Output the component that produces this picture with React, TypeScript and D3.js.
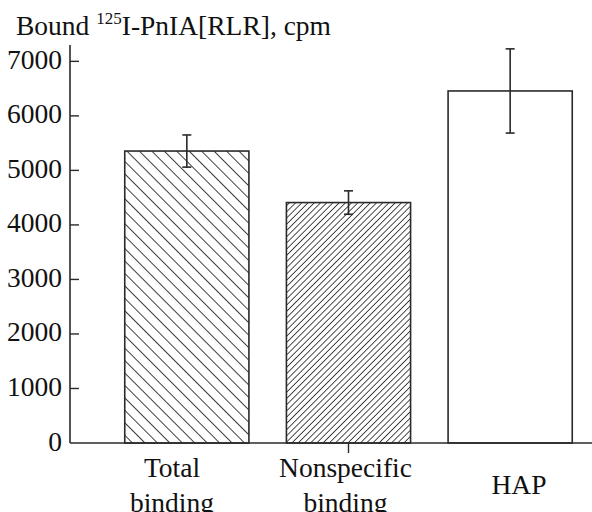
import React from "react";
import * as d3 from "d3";

const categories = ["Total binding", "Nonspecific binding", "HAP"];
const labelLines = [["Total", "binding"], ["Nonspecific", "binding"], ["HAP"]];
const values = [5355, 4410, 6457];
const errors = [295, 215, 772];
const yTicks = [0, 1000, 2000, 3000, 4000, 5000, 6000, 7000];

const W = 592;
const H = 512;
const FONT = "'Liberation Serif', 'Times New Roman', serif";
const INK = "#2a2a2a";
const FS = 27.5;

export default function App() {
  const x = d3
    .scaleBand<string>()
    .domain(categories)
    .range([106, 591])
    .paddingInner(0.232)
    .paddingOuter(0.116);
  const labelX = d3.scalePoint<string>().domain(categories).range([172, 519]);
  const y = d3.scaleLinear().domain([0, 7300]).range([443, 45]);
  const bw = x.bandwidth();
  const fills = ["url(#hatchBack)", "url(#hatchFwd)", "#fff"];
  const capW = 9;

  return (
    <svg
      width={W}
      height={H}
      style={{ position: "absolute", left: 0, top: 0, display: "block", background: "#fff" }}
      fontFamily={FONT}
    >
      <defs>
        <pattern id="hatchBack" patternUnits="userSpaceOnUse" width={8.8} height={20} patternTransform="rotate(-45)">
          <rect width={8.8} height={20} fill="#fff" />
          <line x1={0} y1={0} x2={0} y2={20} stroke="#000" strokeWidth={1.5} />
        </pattern>
        <pattern id="hatchFwd" patternUnits="userSpaceOnUse" width={4.4} height={20} patternTransform="rotate(45)">
          <rect width={4.4} height={20} fill="#fff" />
          <line x1={0} y1={0} x2={0} y2={20} stroke="#000" strokeWidth={1.4} />
        </pattern>
      </defs>
      <rect width={W} height={H} fill="#fff" />

      {/* title */}
      <text x={16} y={35} fontSize={FS} fill="#111">
        <tspan>Bound </tspan>
        <tspan fontSize={17} dy={-11}>125</tspan>
        <tspan dy={11}>I-PnIA[RLR], cpm</tspan>
      </text>

      {/* bars */}
      {categories.map((c, i) => (
        <rect
          key={c}
          x={x(c)!}
          y={y(values[i])}
          width={bw}
          height={y(0) - y(values[i])}
          fill={fills[i]}
          stroke={INK}
          strokeWidth={1.6}
        />
      ))}

      {/* error bars */}
      {categories.map((c, i) => {
        const cx = x(c)! + bw / 2;
        const top = y(values[i] + errors[i]);
        const bot = y(values[i] - errors[i]);
        return (
          <g key={c} stroke={INK} strokeWidth={1.6}>
            <line x1={cx} x2={cx} y1={top} y2={bot} />
            <line x1={cx - capW / 2} x2={cx + capW / 2} y1={top} y2={top} />
            <line x1={cx - capW / 2} x2={cx + capW / 2} y1={bot} y2={bot} />
          </g>
        );
      })}

      {/* axes */}
      <line x1={70} x2={70} y1={y(7300)} y2={y(0)} stroke={INK} strokeWidth={1.6} />
      <line x1={70} x2={W} y1={y(0)} y2={y(0)} stroke={INK} strokeWidth={1.6} />
      {yTicks.map((t) => (
        <g key={t}>
          {t > 0 && <line x1={70} x2={79} y1={y(t)} y2={y(t)} stroke={INK} strokeWidth={1.4} />}
          <text x={62} y={y(t) + 7.5} textAnchor="end" fontSize={FS} fill="#111">
            {t}
          </text>
        </g>
      ))}
      <line
        x1={x(categories[1])! + bw / 2}
        x2={x(categories[1])! + bw / 2}
        y1={y(0)}
        y2={y(0) + 10}
        stroke={INK}
        strokeWidth={1.4}
      />

      {/* category labels */}
      {categories.map((c, i) => {
        const lines = labelLines[i];
        const base = lines.length === 1 ? 494 : 477;
        return (
          <text key={c} x={labelX(c)!} y={base} textAnchor="middle" fontSize={FS} fill="#111">
            {lines.map((l, j) => (
              <tspan key={j} x={labelX(c)!} y={base + j * 35}>
                {l}
              </tspan>
            ))}
          </text>
        );
      })}
    </svg>
  );
}
